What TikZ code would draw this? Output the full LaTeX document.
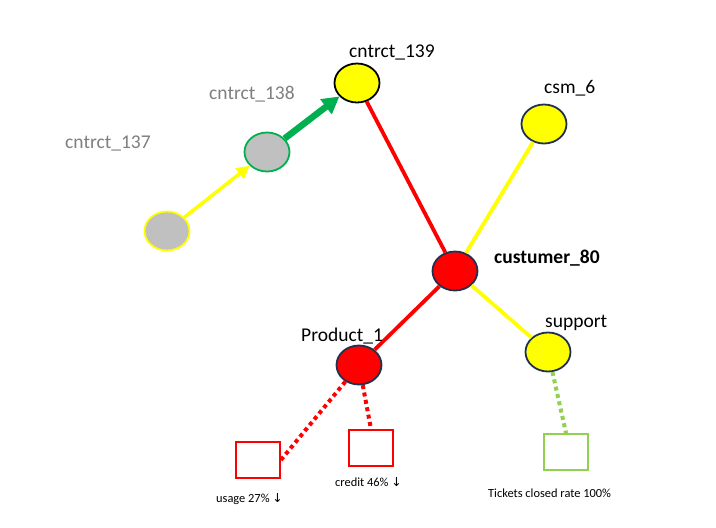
\documentclass[tikz,border=0pt]{standalone}
\usepackage{fontspec}
\setmainfont{Carlito}
\newfontfamily\arrowfont{DejaVu Sans}
\usetikzlibrary{shapes.geometric,arrows.meta}
\definecolor{navy}{HTML}{1F3050}
\definecolor{graynode}{HTML}{C0C0C0}
\definecolor{graytext}{HTML}{7F7F7F}
\definecolor{grn}{HTML}{00B050}
\definecolor{lgrn}{HTML}{92D050}
\definecolor{yel}{HTML}{FFFF00}
\definecolor{rd}{HTML}{FF0000}
\tikzset{
  nd/.style={ellipse, minimum width=45pt, minimum height=39pt, inner sep=0pt, line width=1.8pt},
  bx/.style={rectangle, minimum width=44pt, minimum height=36pt, inner sep=0pt, line width=1.8pt, fill=white},
  big/.style={font=\fontsize{19.5}{23}\selectfont, inner sep=0pt, anchor=base west},
  small/.style={font=\fontsize{12.4}{15}\selectfont, inner sep=0pt, anchor=base west},
  solidedge/.style={line width=3.8pt},
  dotedge/.style={line width=4pt, dash pattern=on 4pt off 3.5pt}
}
\begin{document}
\begin{tikzpicture}[x=1pt,y=-1pt]
\useasboundingbox (0,0) rectangle (716,528);
\fill[white] (0,0) rectangle (716,528);

% nodes
\node[nd, fill=yel, draw=black] (c139) at (357,83) {};
\node[nd, fill=graynode, draw=grn] (c138) at (267,152) {};
\node[nd, fill=graynode, draw=yel] (c137) at (167,231) {};
\node[nd, fill=rd, draw=navy] (cust) at (455,271) {};
\node[nd, fill=yel, draw=navy] (csm) at (544,124) {};
\node[nd, fill=yel, draw=navy] (sup) at (548,352) {};
\node[nd, fill=rd, draw=navy] (prod) at (359,365) {};

\node[bx, draw=rd] (usage) at (258,460) {};
\node[bx, draw=rd] (credit) at (371,448) {};
\node[bx, draw=lgrn] (tick) at (566,452) {};

% edges
\draw[yel, line width=3.5pt, -{Triangle[length=13pt,width=13pt]}] (c137) -- (c138);
\draw[grn, line width=6.5pt, -{Triangle[length=17pt,width=18pt]}] (c138) -- (c139);
\draw[rd, solidedge] (c139) -- (cust);
\draw[yel, solidedge] (csm) -- (cust);
\draw[yel, solidedge] (cust) -- (sup);
\draw[rd, solidedge] (cust) -- (prod);
\draw[rd, dotedge] (prod) -- (usage.east);
\draw[rd, dotedge] (prod) -- (credit.north);
\draw[lgrn, dotedge] (sup) -- (tick.north);

% labels
\node[big] (l139) at (349,57) {cntrct\_139};
\node[big, text=graytext] (l138) at (209,99) {cntrct\_138};
\node[big, text=graytext] (l137) at (65,148) {cntrct\_137};
\node[big] (lcsm) at (544,93) {csm\_6};
\node[big, font=\fontsize{19.5}{23}\selectfont\bfseries] (lcust) at (494,263) {custumer\_80};
\node[big] (lsup) at (545,327) {support};
\node[big] (lprod) at (301,341) {Product\_1};
\node[small] (lusage) at (216,502) {usage 27\% {\arrowfont ↓}};
\node[small] (lcredit) at (335,486) {credit 46\% {\arrowfont ↓}};
\node[small] (ltick) at (488,497) {Tickets closed rate 100\%};
\end{tikzpicture}
\end{document}
